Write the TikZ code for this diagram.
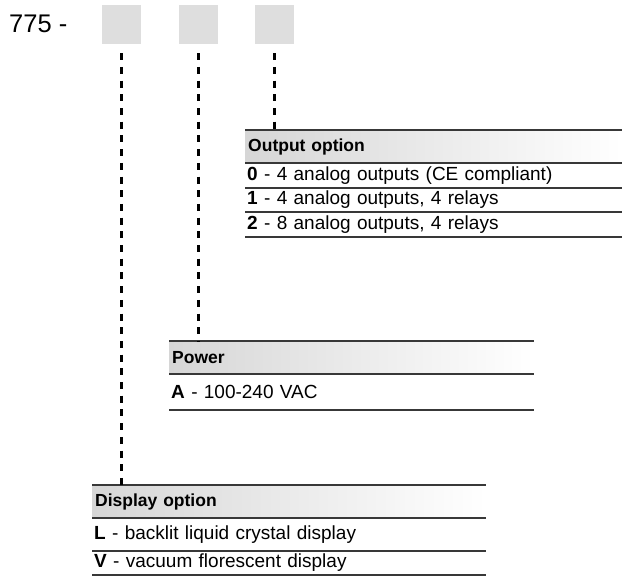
\documentclass[tikz,border=0pt]{standalone}
\usepackage{fontspec}
\setmainfont{Liberation Sans}

\definecolor{boxgray}{HTML}{DEDEDE}
\definecolor{headgray}{HTML}{D6D6D6}
\definecolor{rulegray}{HTML}{383838}

\begin{document}
\begin{tikzpicture}[x=1pt, y=-1pt,
    selbox/.style={fill=boxgray, minimum size=39pt, inner sep=0pt},
    headbar/.style={anchor=north west, left color=headgray, right color=white,
        minimum height=33pt, inner xsep=3pt, inner ysep=0pt, text width=#1,
        align=left, font=\bfseries\fontsize{17.5}{20}\selectfont},
    optrow/.style={anchor=north west, minimum height=24pt, inner xsep=2pt,
        inner ysep=0pt, text width=#1, align=left,
        font=\fontsize{19}{22}\selectfont},
    rule/.style={rulegray, line width=2pt},
    guide/.style={line width=2.6pt, dash pattern=on 7pt off 6.7pt}
]
    \useasboundingbox (0,0) rectangle (624,582);

    % part number and the three blank option boxes
    \node[anchor=west, inner sep=0pt, font=\fontsize{25.5}{28}\selectfont] (partno) at (9,24) {775 -};
    \node[selbox] (sel1) at (121.5,24.5) {};
    \node[selbox] (sel2) at (198.5,24.5) {};
    \node[selbox] (sel3) at (274.5,24.5) {};

    % output option table
    \node[headbar=371pt] (outhead) at (245,130) {Output option};
    \node[optrow=373pt] (outrow1) at (outhead.south west) {\textbf{0} - 4 analog outputs (CE compliant)};
    \node[optrow=373pt] (outrow2) at (outrow1.south west) {\textbf{1} - 4 analog outputs, 4 relays};
    \node[optrow=373pt] (outrow3) at (outrow2.south west) {\textbf{2} - 8 analog outputs, 4 relays};
    \draw[rule] (outhead.north west) -- (outhead.north east);
    \foreach \n in {outhead,outrow1,outrow2,outrow3}
        \draw[rule] (\n.south west) -- (\n.south east);

    % power table
    \node[headbar=359pt] (powhead) at (169,341) {Power};
    \node[optrow=361pt, minimum height=35pt] (powrow1) at (powhead.south west) {\textbf{A} - 100-240 VAC};
    \draw[rule] (powhead.north west) -- (powhead.north east);
    \foreach \n in {powhead,powrow1}
        \draw[rule] (\n.south west) -- (\n.south east);

    % display option table
    \node[headbar=388pt] (disphead) at (92,485) {Display option};
    \node[optrow=390pt, minimum height=32pt] (disprow1) at (disphead.south west) {\textbf{L} - backlit liquid crystal display};
    \node[optrow=390pt] (disprow2) at (disprow1.south west) {\textbf{V} - vacuum florescent display};
    \draw[rule] (disphead.north west) -- (disphead.north east);
    \foreach \n in {disphead,disprow1,disprow2}
        \draw[rule] (\n.south west) -- (\n.south east);

    % dashed leaders from the boxes down to their tables
    \draw[guide] ([yshift=-9pt]sel1.south) -- (sel1 |- disphead.north);
    \draw[guide] ([yshift=-9pt]sel2.south) -- (sel2 |- powhead.north);
    \draw[guide] ([yshift=-9pt]sel3.south) -- (sel3 |- outhead.north);
\end{tikzpicture}
\end{document}
